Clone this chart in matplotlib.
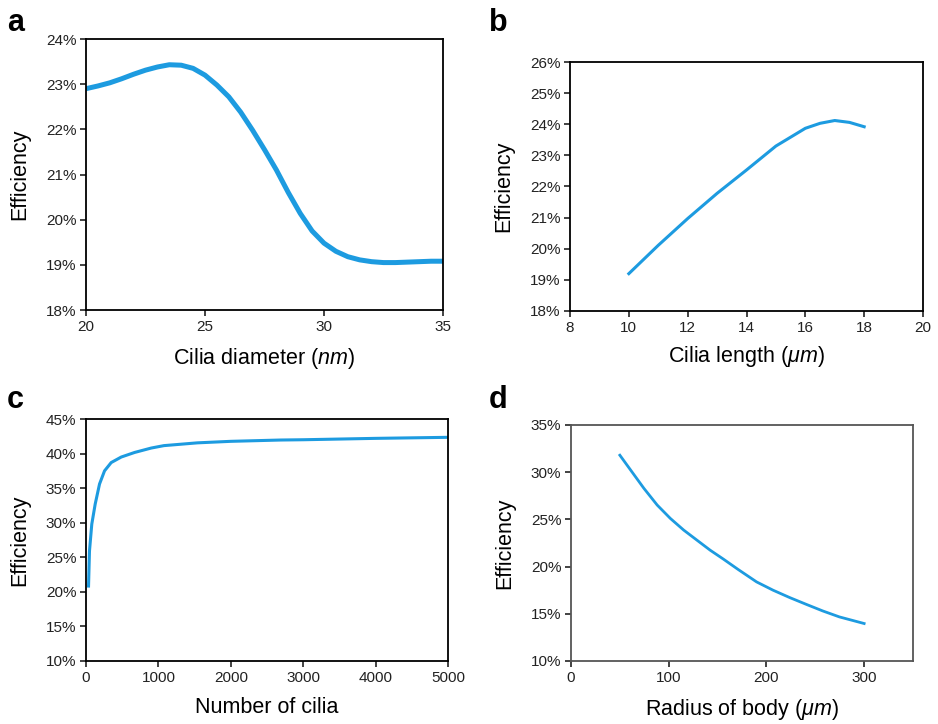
import matplotlib
matplotlib.use("Agg")
import matplotlib.pyplot as plt
from matplotlib.ticker import PercentFormatter

plt.rcParams['font.family'] = ['Liberation Sans', 'DejaVu Sans']
plt.rcParams['mathtext.fontset'] = 'custom'
plt.rcParams['mathtext.rm'] = 'Liberation Sans'
plt.rcParams['mathtext.it'] = 'Liberation Sans:italic'

# Panel a: efficiency vs cilia diameter
diam_nm = [20, 20.5, 21, 21.5, 22, 22.5, 23, 23.5, 24, 24.5, 25, 25.5, 26, 26.5, 27,
           27.5, 28, 28.5, 29, 29.5, 30, 30.5, 31, 31.5, 32, 32.5, 33, 33.5, 34, 34.5, 35]
eff_a = [22.9, 22.96, 23.03, 23.12, 23.22, 23.31, 23.38, 23.43, 23.42, 23.35, 23.2,
         22.98, 22.72, 22.38, 21.98, 21.55, 21.1, 20.6, 20.14, 19.75, 19.48, 19.3,
         19.18, 19.11, 19.07, 19.05, 19.05, 19.06, 19.07, 19.08, 19.08]

# Panel b: efficiency vs cilia length
length_um = [10, 11, 12, 13, 14, 15, 16, 16.5, 17, 17.5, 18]
eff_b = [19.2, 20.11, 20.97, 21.78, 22.53, 23.3, 23.87, 24.03, 24.12, 24.06, 23.92]

# Panel c: efficiency vs number of cilia
n_cilia = [35, 48, 80, 127, 187, 256, 348, 487, 671, 901, 1077, 1538, 2000, 2690,
           3000, 4000, 5000]
eff_c = [20.84, 25.9, 29.8, 32.7, 35.6, 37.5, 38.7, 39.5, 40.16, 40.8, 41.15, 41.55,
         41.77, 41.96, 42.0, 42.2, 42.35]

# Panel d: efficiency vs radius of body
radius_um = [50, 61, 74.6, 88.2, 101.7, 115.3, 128.9, 142.4, 156, 171, 189.9, 206.8,
             223.8, 240.8, 257.7, 274.7, 300]
eff_d = [31.8, 30.23, 28.29, 26.52, 25.1, 23.87, 22.8, 21.74, 20.79, 19.7, 18.38, 17.5,
         16.72, 16.0, 15.3, 14.67, 13.97]

W, H = 938, 724
fig = plt.figure(figsize=(W / 100, H / 100), dpi=100)

def ax_px(l, t, r, b):
    return fig.add_axes([l / W, 1 - b / H, (r - l) / W, (b - t) / H])

LINE = '#1d9be0'
TICK_FS = 11
LAB_FS = 15.5

def style(ax, spine_color='black'):
    for s in ax.spines.values():
        s.set_linewidth(1.3)
        s.set_color(spine_color)
    ax.tick_params(direction='out', length=4, width=1.2, labelsize=TICK_FS,
                   colors='#222222', pad=3)
    ax.yaxis.set_major_formatter(PercentFormatter(xmax=100, decimals=0))
    ax.set_ylabel('Efficiency', fontsize=LAB_FS, labelpad=11)

XPAD = 9

# a
axa = ax_px(86, 39, 443, 310)
axa.plot(diam_nm, eff_a, color=LINE, lw=3.6, solid_capstyle='butt')
axa.set_xlim(20, 35)
axa.set_ylim(18, 24)
axa.set_xticks([20, 25, 30, 35])
axa.set_yticks(range(18, 25))
style(axa)
axa.set_xlabel(r'Cilia diameter ($\mathit{nm}$)', fontsize=LAB_FS, labelpad=XPAD)

# b
axb = ax_px(570, 62, 923, 311)
axb.plot(length_um, eff_b, color=LINE, lw=2.2)
axb.set_xlim(8, 20)
axb.set_ylim(18, 26)
axb.set_xticks(range(8, 21, 2))
axb.set_yticks(range(18, 27))
style(axb)
axb.set_xlabel(r'Cilia length ($\mu m$)', fontsize=LAB_FS, labelpad=XPAD - 2)

# c
axc = ax_px(86, 419, 448, 661)
axc.plot(n_cilia, eff_c, color=LINE, lw=2.2)
axc.set_xlim(0, 5000)
axc.set_ylim(10, 45)
axc.set_xticks(range(0, 5001, 1000))
axc.set_yticks(range(10, 46, 5))
style(axc)
axc.set_xlabel('Number of cilia', fontsize=LAB_FS, labelpad=XPAD)

# d
axd = ax_px(571, 425, 913, 661)
axd.plot(radius_um, eff_d, color=LINE, lw=2.0)
axd.set_xlim(0, 350)
axd.set_ylim(10, 35)
axd.set_xticks([0, 100, 200, 300])
axd.set_yticks(range(10, 36, 5))
style(axd, spine_color='#555555')
axd.set_xlabel(r'Radius of body ($\mu m$)', fontsize=LAB_FS, labelpad=XPAD)

for lab, x, y in [('a', 7, 31), ('b', 489, 31), ('c', 7, 408), ('d', 489, 408)]:
    fig.text(x / W, 1 - y / H, lab, fontsize=22, fontweight='bold',
             ha='left', va='baseline')

fig.savefig('out.png', dpi=100)
